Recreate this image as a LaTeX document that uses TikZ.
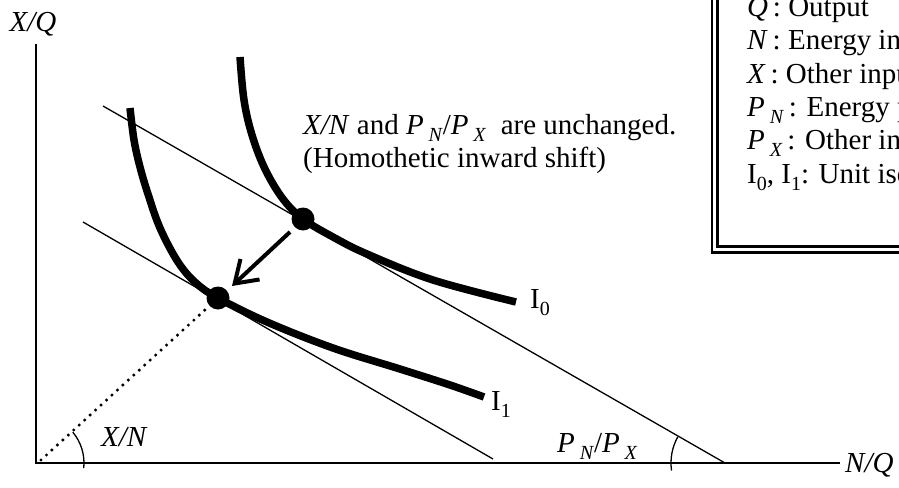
\documentclass[tikz,border=0pt]{standalone}
\usepackage{fontspec}
\setmainfont{Liberation Serif}
\usetikzlibrary{arrows.meta}
\newcommand\SbX[1]{\raisebox{-0.25em}{\fontsize{20}{20}\selectfont #1}}
\begin{document}
\begin{tikzpicture}[x=1pt,y=-1pt,
  font=\fontsize{29}{33}\selectfont,
  axis/.style={line width=2.4pt},
  thinline/.style={line width=1.3pt},
  iso/.style={line width=7.5pt},
  bigdot/.style={circle,fill=black,inner sep=0pt,minimum size=23pt},
  lbl/.style={inner sep=0pt},
  boxline/.style={line width=2.2pt}]
\useasboundingbox (0,0) rectangle (899,487);
\clip (0,0) rectangle (899,487);
% coordinates
\coordinate (O) at (36,463);
\coordinate (ytop) at (36,44);
\coordinate (xend) at (840,463);
\node[bigdot] (A) at (303,219) {};
\node[bigdot] (B) at (218,298) {};
% axes
\draw[axis] (ytop) -- (O) -- (xend);
\node[lbl,anchor=base] (xq) at (33,32) {\textit{X/Q}};
\node[lbl,anchor=base west] (nq) at (845,472) {\textit{N/Q}};
% budget lines
\coordinate (L1s) at (103,106);
\coordinate (L1e) at (725,463);
\coordinate (L2s) at (83,222);
\coordinate (L2e) at (493,459);
\draw[thinline] (L1s) -- (L1e);
\draw[thinline] (L2s) -- (L2e);
% isoquants
\draw[iso] plot[smooth,tension=0.6] coordinates {(240,57) (244,100) (252,135) (265,169) (283,199) (303,219) (333,237) (367,254) (433,280) (516,302)};
\draw[iso] plot[smooth,tension=0.6] coordinates {(130,108) (134,140) (140,167) (148,194) (160,228) (178,262) (196,283) (218,298) (267,322) (333,348) (400,369) (450,385) (484,397)};
\node[lbl,anchor=base west] (i0) at (530,308) {I\SbX{0}};
\node[lbl,anchor=base west] (i1) at (491,410) {I\SbX{1}};
% dotted ray
\draw[line width=3.4pt,dash pattern=on 0pt off 7.4pt,line cap=round] (41,460) -- (B);
% angle arcs
\draw[thinline] (O) ++(-40:48) arc[start angle=-40,end angle=6,radius=48];
\draw[thinline] (L1e) ++(-151:54) arc[start angle=-151,end angle=-188,radius=54];
\node[lbl,anchor=base west] (xn) at (101,446) {\textit{X/N}};
\node[lbl,anchor=base west] (pp) at (557,452) {\textit{P}\,\SbX{\textit{N}}/\textit{P}\,\SbX{\textit{X}}};
% arrow
\coordinate (a1) at (290,232);
\coordinate (a2) at (232,286);
\draw[line width=4pt,-{Straight Barb[length=21pt,width=28pt,line width=4pt]}] (a1) -- (a2);
% annotation
\node[lbl,anchor=base west] (t1) at (303,134) {\textit{X/N} and \textit{P}\,\SbX{\textit{N}}/\textit{P}\,\SbX{\textit{X}}\ \ are unchanged.};
\node[lbl,anchor=base west] (t2) at (303,167) {(Homothetic inward shift)};
% legend box
\draw[boxline] (712,-10) -- (712,252.5) -- (910,252.5);
\draw[boxline] (717.5,-10) -- (717.5,246.5) -- (910,246.5);
\node[lbl,anchor=base west] (k1) at (747,17) {\textit{Q}\,: Output};
\node[lbl,anchor=base west] (k2) at (747,50) {\textit{N}\,: Energy input};
\node[lbl,anchor=base west] (k3) at (747,83) {\textit{X}\,: Other inputs};
\node[lbl,anchor=base west] (k4) at (747,116) {\textit{P}\,\SbX{\textit{N}}\,: Energy price};
\node[lbl,anchor=base west] (k5) at (747,149) {\textit{P}\,\SbX{\textit{X}}\,: Other input price};
\node[lbl,anchor=base west] (k6) at (747,183) {I\SbX{0}, I\SbX{1}: Unit isoquants};
\end{tikzpicture}
\end{document}
